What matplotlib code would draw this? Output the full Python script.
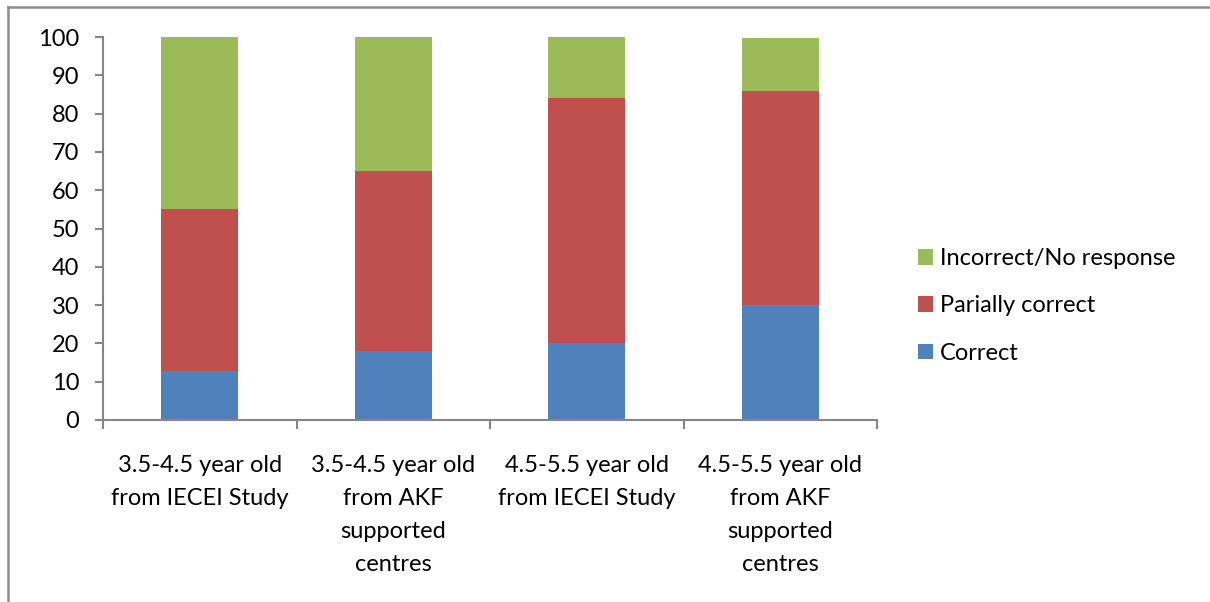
import numpy as np
import matplotlib
matplotlib.use("Agg")
from matplotlib import pyplot as plt
from matplotlib.lines import Line2D

plt.rcParams['font.family'] = ['Lato', 'DejaVu Sans']

categories = ["3.5-4.5 year old\nfrom IECEI Study",
              "3.5-4.5 year old\nfrom AKF\nsupported\ncentres",
              "4.5-5.5 year old\nfrom IECEI Study",
              "4.5-5.5 year old\nfrom AKF\nsupported\ncentres"]
correct = [12.7, 18, 20, 30]
partially_correct = [42.3, 47, 64, 55.8]
incorrect = [45, 35, 16, 14]

blue, red, green = '#4F81BD', '#C0504D', '#9BBB59'
axis_grey = '#868686'
fs = 17

fig = plt.figure(figsize=(12.10, 6.02), dpi=100)
ax = fig.add_axes([103/1210, 1-420/602, (877-103)/1210, (420-37)/602])

x = np.arange(len(categories))
b1 = ax.bar(x, correct, width=0.4, color=blue, label='Correct')
b2 = ax.bar(x, partially_correct, width=0.4, bottom=correct, color=red, label='Parially correct')
bottom3 = np.array(correct) + np.array(partially_correct)
b3 = ax.bar(x, incorrect, width=0.4, bottom=bottom3, color=green, label='Incorrect/No response')

ax.set_xlim(-0.5, len(categories) - 0.5)
ax.set_ylim(0, 100)
ax.set_yticks(np.arange(0, 101, 10))

# category boundaries get tick marks, labels sit between them
ax.set_xticks(np.arange(-0.5, len(categories), 1.0))
ax.set_xticklabels([])
ax.set_xticks(x, minor=True)
ax.set_xticklabels(categories, minor=True, fontsize=fs, linespacing=1.72, va='top')
ax.tick_params(axis='x', which='minor', length=0, pad=25)
ax.tick_params(axis='x', which='major', length=6.5, width=1.5, color=axis_grey)
ax.tick_params(axis='y', length=6, width=1.5, color=axis_grey, labelsize=fs, pad=11)

for side in ['top', 'right']:
    ax.spines[side].set_visible(False)
for side in ['left', 'bottom']:
    ax.spines[side].set_color(axis_grey)
    ax.spines[side].set_linewidth(1.5)

fig.legend(handles=[b3, b2, b1], loc='center left',
           bbox_to_anchor=(918/1210, 1-306/602), frameon=False, fontsize=fs,
           handlelength=0.64, handleheight=0.64, handletextpad=0.3,
           labelspacing=1.12, borderpad=0, borderaxespad=0)

# chart frame, only top and left edges
fig.add_artist(Line2D([8/1210, 1], [1-7/602, 1-7/602], color='#8c8c8c', lw=1.8))
fig.add_artist(Line2D([8/1210, 8/1210], [0, 1-7/602], color='#8c8c8c', lw=1.8))

fig.savefig('out.png', dpi=100)
